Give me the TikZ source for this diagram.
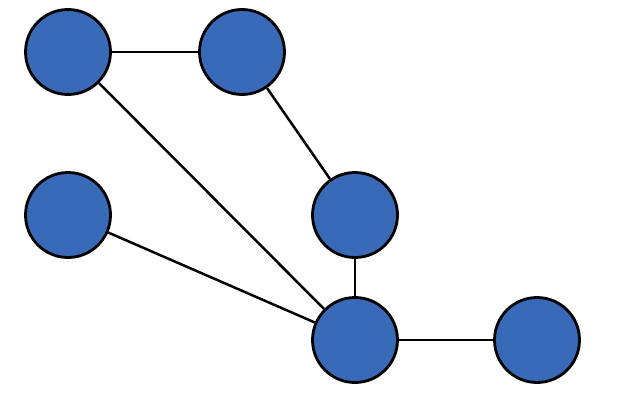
\documentclass[tikz,border=0pt]{standalone}
\usepackage{xcolor}
\usepackage{tikz}
\usetikzlibrary{positioning}
\definecolor{nodeblue}{RGB}{56, 106, 184}

\begin{document}
\begin{tikzpicture}[
    x=1pt, y=-1pt,
    vertex/.style={circle, draw=black, fill=nodeblue, line width=2.8pt, minimum size=85pt, inner sep=0pt},
    edge/.style={line width=2.5pt, color=black}
]
\useasboundingbox (0,0) rectangle (644,401);

% Vertices
\node[vertex] (topleft) at (68,52) {};
\node[vertex] (topmid) at (242,52) {};
\node[vertex] (midleft) at (68,215) {};
\node[vertex] (midright) at (355,215) {};
\node[vertex] (hub) at (355,340) {};
\node[vertex] (farright) at (537,340) {};

% Edges
\draw[edge] (topleft) -- (topmid);
\draw[edge] (topleft) -- (hub);
\draw[edge] (topmid) -- (midright);
\draw[edge] (midright) -- (hub);
\draw[edge] (midleft) -- (hub);
\draw[edge] (hub) -- (farright);

\end{tikzpicture}
\end{document}
